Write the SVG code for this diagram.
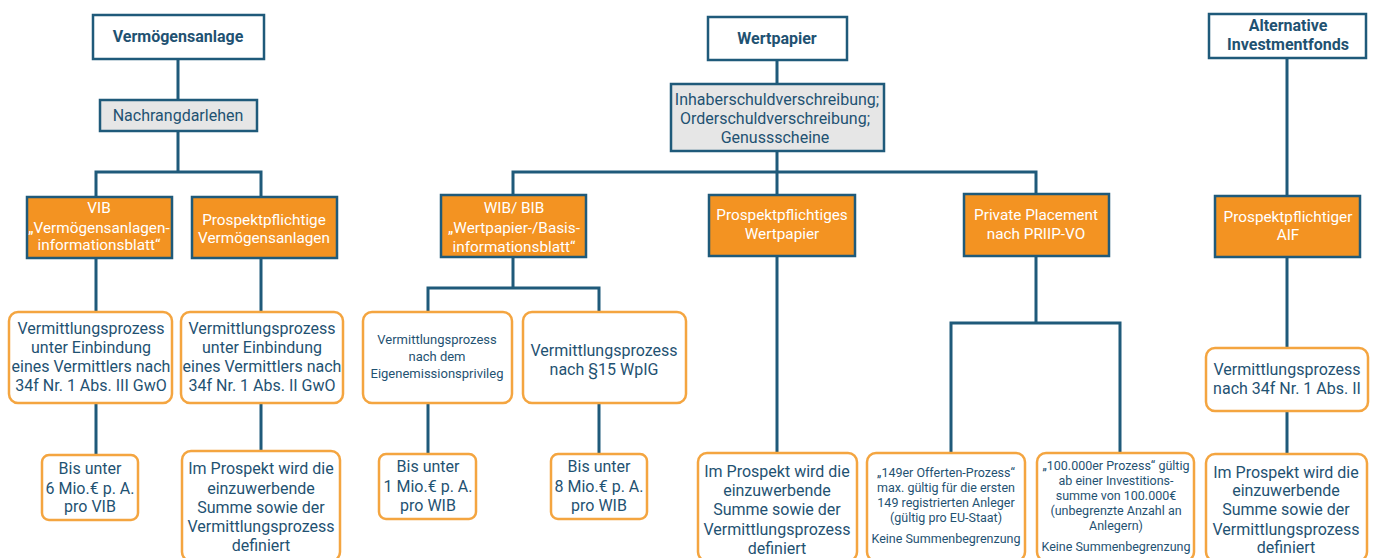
<svg xmlns="http://www.w3.org/2000/svg" width="1373" height="558" viewBox="0 0 1373 558">
<style>
.top{fill:#fff;stroke:#1f5a7a;stroke-width:2.5}
.cat{fill:#e6e6e6;stroke:#1f5a7a;stroke-width:2.5}
.or{fill:#f39322;stroke:#1f5a7a;stroke-width:2.5}
.pr{fill:#fff;stroke:#f4a540;stroke-width:2.5}
text{font-family:Roboto,"Liberation Sans",sans-serif;text-anchor:middle;fill:#1f5272;font-size:16px}
.b{font-weight:bold;font-size:16px}
.w{fill:#fff;font-size:15.3px}
.s{font-size:13px}
.xs{font-size:12.5px}
.con{fill:none;stroke:#1f5a7a;stroke-width:3}
</style>
<rect width="1373" height="558" fill="#fff"/>
<g id="connectors" class="con">
<path d="M178 59V100M178 131V172M96 197V172H261V197M96 258V312M261 258V312M96 403V455M261 403V451"/>
<path d="M777 60V84M777 151V195M513 195V172H1036V194M513 257V288M428 312V288H599V312M428 403V454M599 403V454M777 256V453"/>
<path d="M1036 256V323M951 453V323H1120V453"/>
<path d="M1287 58V196M1287 257V348M1287 411V454"/>
</g>
<g id="n-vermoegensanlage"><rect class="top" x="93" y="15" width="171" height="44"/><text class="b" x="178" y="42">Vermögensanlage</text></g>
<g id="n-nachrang"><rect class="cat" x="100" y="100" width="157" height="31"/><text x="178" y="121">Nachrangdarlehen</text></g>
<g id="n-vib"><rect class="or" x="27" y="197" width="145" height="61"/><text class="w" x="99" y="213">VIB</text><text class="w" x="99" y="233">„Vermögensanlagen-</text><text class="w" x="99" y="250">informationsblatt“</text></g>
<g id="n-prosp-va"><rect class="or" x="192" y="197" width="145" height="61"/><text class="w" x="264" y="225">Prospektpflichtige</text><text class="w" x="264" y="243">Vermögensanlagen</text></g>
<g id="n-vp1"><rect class="pr" x="9" y="312" width="163" height="91" rx="9"/><text x="91" y="334">Vermittlungsprozess</text><text x="91" y="353">unter Einbindung</text><text x="91" y="372">eines Vermittlers nach</text><text x="91" y="391">34f Nr. 1 Abs. III GwO</text></g>
<g id="n-vp2"><rect class="pr" x="181" y="312" width="162" height="91" rx="9"/><text x="262" y="334">Vermittlungsprozess</text><text x="262" y="353">unter Einbindung</text><text x="262" y="372">eines Vermittlers nach</text><text x="262" y="391">34f Nr. 1 Abs. II GwO</text></g>
<g id="n-bis6"><rect class="pr" x="42" y="455" width="96" height="65" rx="7"/><text x="90" y="474">Bis unter</text><text x="90" y="494">6 Mio.€ p. A.</text><text x="90" y="512">pro VIB</text></g>
<g id="n-im1"><rect class="pr" x="182" y="451" width="158" height="110" rx="9"/><text x="261" y="474">Im Prospekt wird die</text><text x="261" y="494">einzuwerbende</text><text x="261" y="513">Summe sowie der</text><text x="261" y="532">Vermittlungsprozess</text><text x="261" y="551">definiert</text></g>
<g id="n-wertpapier"><rect class="top" x="708" y="17" width="139" height="43"/><text class="b" x="777" y="44">Wertpapier</text></g>
<g id="n-inhaber"><rect class="cat" x="671" y="84" width="213" height="67"/><text x="777" y="105">Inhaberschuldverschreibung;</text><text x="775" y="124">Orderschuldverschreibung;</text><text x="775" y="143">Genussscheine</text></g>
<g id="n-wib"><rect class="or" x="441" y="195" width="145" height="62"/><text class="w" x="514" y="213">WIB/ BIB</text><text class="w" x="514" y="233">„Wertpapier-/Basis-</text><text class="w" x="514" y="252">informationsblatt“</text></g>
<g id="n-prosp-wp"><rect class="or" x="709" y="195" width="146" height="61"/><text class="w" x="782" y="220">Prospektpflichtiges</text><text class="w" x="782" y="239">Wertpapier</text></g>
<g id="n-private"><rect class="or" x="964" y="194" width="145" height="62"/><text class="w" x="1036" y="220">Private Placement</text><text class="w" x="1036" y="239">nach PRIIP-VO</text></g>
<g id="n-eigen"><rect class="pr" x="363" y="312" width="149" height="91" rx="9"/><text class="s" x="437" y="344">Vermittlungsprozess</text><text class="s" x="437" y="361">nach dem</text><text class="s" x="437" y="378">Eigenemissionsprivileg</text></g>
<g id="n-p15"><rect class="pr" x="523" y="312" width="163" height="91" rx="9"/><text x="604" y="356">Vermittlungsprozess</text><text x="604" y="375">nach §15 WpIG</text></g>
<g id="n-bis1"><rect class="pr" x="379" y="454" width="97" height="65" rx="7"/><text x="428" y="472">Bis unter</text><text x="428" y="492">1 Mio.€ p. A.</text><text x="428" y="511">pro WIB</text></g>
<g id="n-bis8"><rect class="pr" x="551" y="454" width="96" height="65" rx="7"/><text x="599" y="472">Bis unter</text><text x="599" y="492">8 Mio.€ p. A.</text><text x="599" y="511">pro WIB</text></g>
<g id="n-im2"><rect class="pr" x="698" y="453" width="159" height="108" rx="9"/><text x="777" y="477">Im Prospekt wird die</text><text x="777" y="496">einzuwerbende</text><text x="777" y="515">Summe sowie der</text><text x="777" y="535">Vermittlungsprozess</text><text x="777" y="554">definiert</text></g>
<g id="n-149"><rect class="pr" x="867" y="453" width="158" height="108" rx="9"/><text class="xs" x="946" y="477">„149er Offerten-Prozess“</text><text class="xs" x="946" y="492">max. gültig für die ersten</text><text class="xs" x="946" y="507">149 registrierten Anleger</text><text class="xs" x="946" y="522">(gültig pro EU-Staat)</text><text class="xs" x="946" y="543">Keine Summenbegrenzung</text></g>
<g id="n-100000"><rect class="pr" x="1037" y="453" width="157" height="108" rx="9"/><text class="xs" x="1116" y="470">„100.000er Prozess“ gültig</text><text class="xs" x="1116" y="485">ab einer Investitions-</text><text class="xs" x="1116" y="500">summe von 100.000€</text><text class="xs" x="1116" y="515">(unbegrenzte Anzahl an</text><text class="xs" x="1116" y="530">Anlegern)</text><text class="xs" x="1116" y="551">Keine Summenbegrenzung</text></g>
<g id="n-aif"><rect class="top" x="1209" y="14" width="157" height="44"/><text class="b" x="1288" y="31">Alternative</text><text class="b" x="1288" y="50">Investmentfonds</text></g>
<g id="n-prosp-aif"><rect class="or" x="1215" y="196" width="145" height="61"/><text class="w" x="1288" y="222">Prospektpflichtiger</text><text class="w" x="1288" y="240">AIF</text></g>
<g id="n-vp-aif"><rect class="pr" x="1206" y="348" width="162" height="63" rx="9"/><text x="1287" y="375">Vermittlungsprozess</text><text x="1287" y="394">nach 34f Nr. 1 Abs. II</text></g>
<g id="n-im3"><rect class="pr" x="1206" y="454" width="161" height="107" rx="9"/><text x="1286" y="478">Im Prospekt wird die</text><text x="1286" y="496">einzuwerbende</text><text x="1286" y="515">Summe sowie der</text><text x="1286" y="535">Vermittlungsprozess</text><text x="1286" y="553">definiert</text></g>
</svg>
